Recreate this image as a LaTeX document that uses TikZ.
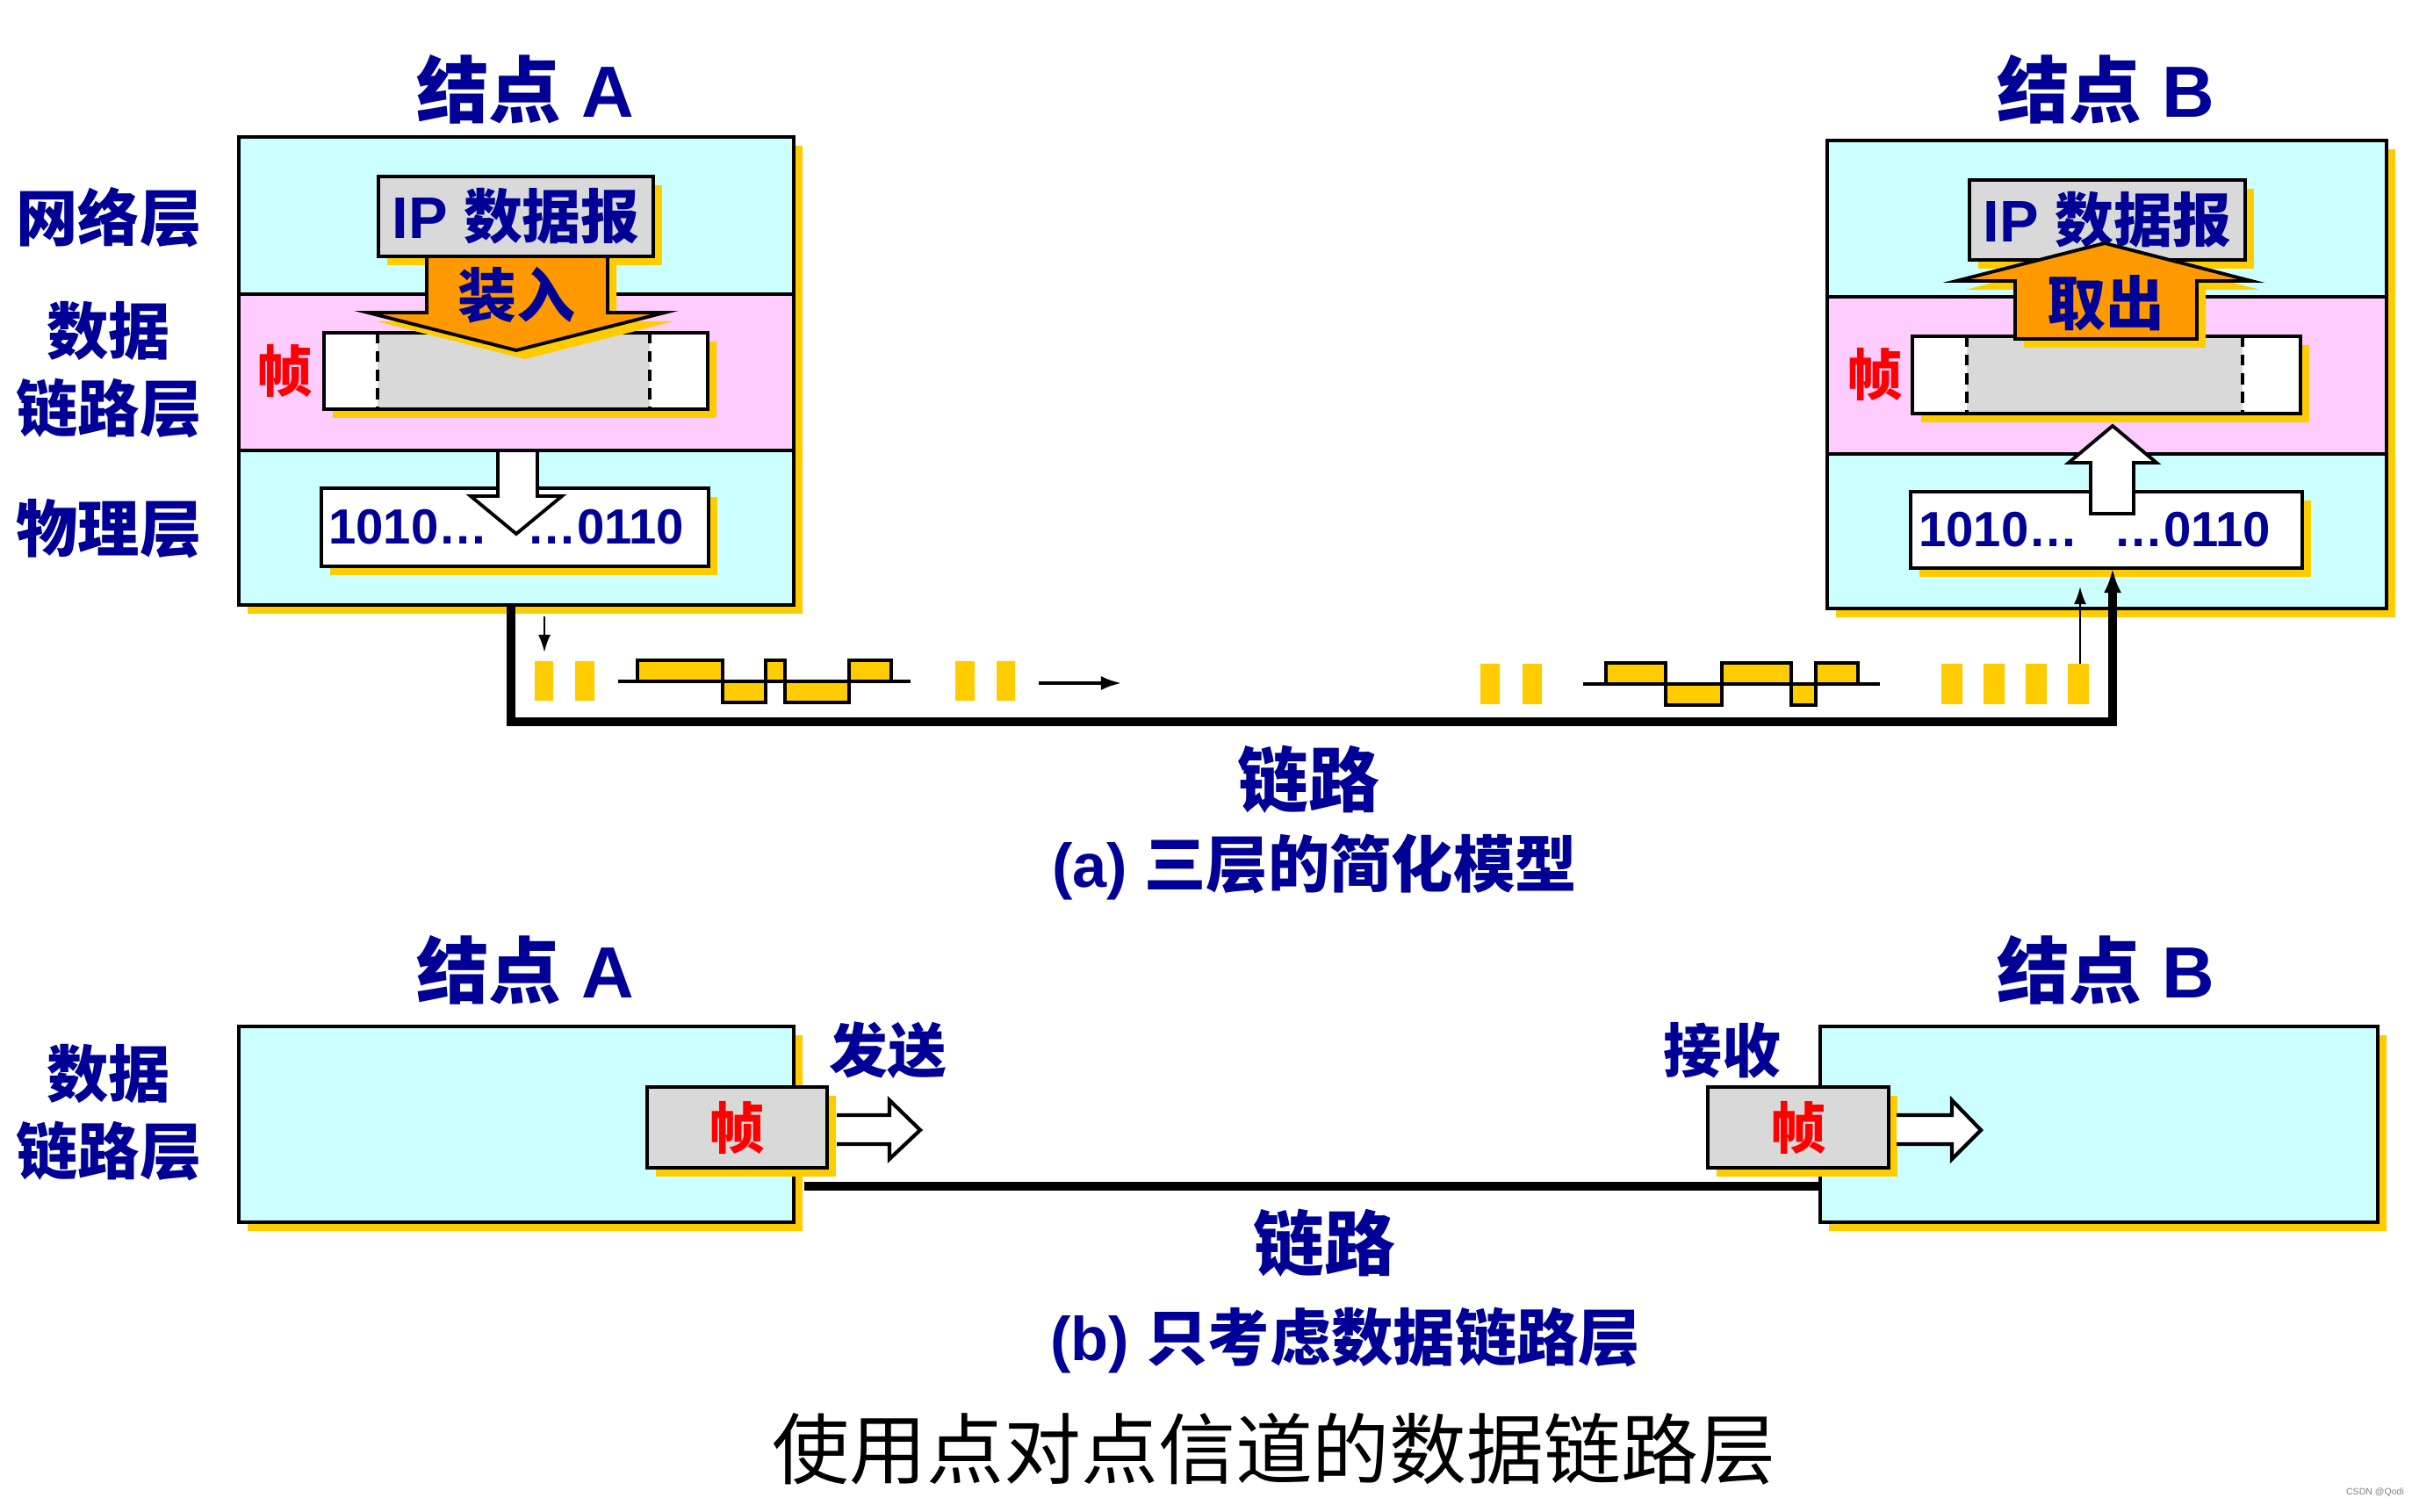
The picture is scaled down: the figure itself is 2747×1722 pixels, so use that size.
\documentclass[tikz,border=0pt]{standalone}
\usepackage{fontspec}
\setmainfont{Liberation Sans}
\newfontfamily\cjk{Noto Sans CJK SC}
\usetikzlibrary{arrows.meta,shadows}
\definecolor{navy}{RGB}{0,0,150}
\definecolor{cyanf}{RGB}{204,255,255}
\definecolor{pinkf}{RGB}{255,204,255}
\definecolor{grayf}{RGB}{217,217,217}
\definecolor{shy}{RGB}{255,204,0}
\definecolor{orangef}{RGB}{255,153,0}
\newcommand{\fsz}[1]{\fontsize{#1}{#1}\selectfont}
\begin{document}
\begin{tikzpicture}[x=0.01cm,y=-0.01cm,line join=miter,
  sh/.style={drop shadow={shadow xshift=0.1cm,shadow yshift=-0.1cm,fill=shy,opacity=1}},
  box/.style={draw,line width=1.1pt,inner sep=0pt,outer sep=0pt,sh},
  lab/.style={text=navy,inner sep=0pt,font=\bfseries\cjk\fsz{20}},
  ttl/.style={text=navy,inner sep=0pt,font=\bfseries\fsz{23.5}},
  midl/.style={text=navy,inner sep=0pt,font=\bfseries\fsz{19}},
  capt/.style={text=navy,inner sep=0pt,font=\bfseries\fsz{20}},
  zhen/.style={text=red,inner sep=0pt,font=\bfseries\cjk\fsz{18}},
  bitsty/.style={text=navy,inner sep=0pt,font=\bfseries\fsz{16}},
  link/.style={line width=2.8pt},
  thinarr/.style={line width=0.7pt,-{Latex[length=0.2cm,width=0.14cm]}},
  hollow/.style={line width=1.2pt,fill=white},
  band/.style={draw,line width=1.1pt,fill=pinkf},
  shp/.style={draw,line width=1.1pt},
  wave/.style={line width=1.1pt}
]
\useasboundingbox (0,0) rectangle (2747,1722);

% ---------- (a) titles and layer labels ----------
\node[ttl] (tA) at (598,102) {{\cjk 结点} A};
\node[ttl] (tB) at (2398,102) {{\cjk 结点} B};
\node[lab] (lNet) at (124,248) {网络层};
\node[lab,align=center,font=\bfseries\cjk\fontsize{20}{25}\selectfont] (lDL) at (124,421) {数据\\链路层};
\node[lab] (lPhy) at (124,602) {物理层};

% ---------- node A ----------
\node[box,fill=cyanf,minimum width=6.32cm,minimum height=5.33cm] (boxA) at (588,422.5) {};
\draw[band] (272,335) rectangle (904,513);
\node[box,fill=grayf,minimum width=3.13cm,minimum height=0.91cm] (ipA) at (587.5,246.5) {};
\node[midl] (ipAt) at (ipA) {IP {\cjk 数据报}};
\node[box,fill=white,minimum width=4.37cm,minimum height=0.87cm] (frA) at (587.5,422.5) {};
\fill[grayf] (430,379) rectangle (740,466);
\draw[line width=1pt,dash pattern=on 3.5pt off 2.5pt] (430,379) -- (430,466) (740,379) -- (740,466);
\draw[line width=1.1pt] (frA.south west) rectangle (frA.north east);
\node[zhen] (zA) at (324,422) {帧};
\node[box,fill=white,minimum width=4.41cm,minimum height=0.89cm] (bitsA) at (586.5,600.5) {};
\node[bitsty] (bA1) at (465,600) {1010\ldots};
\node[bitsty] (bA2) at (690,600) {\ldots0110};
% load arrow
\draw[shp,fill=orangef,sh] (486,292) -- (692,292) -- (692,356) -- (757,356) -- (588,399) -- (419,356) -- (486,356) -- cycle;
\node[midl,font=\bfseries\cjk\fsz{19}] (inA) at (588,336) {装入};
% white down arrow
\draw[shp,fill=white] (567,513) -- (612,513) -- (612,565) -- (640,565) -- (588,608) -- (536,565) -- (567,565) -- cycle;

% ---------- node B ----------
\node[box,fill=cyanf,minimum width=6.37cm,minimum height=5.33cm] (boxB) at (2399.5,426.5) {};
\draw[band] (2081,338) rectangle (2718,517);
\node[box,fill=grayf,minimum width=3.14cm,minimum height=0.91cm] (ipB) at (2400,250.5) {};
\node[midl] (ipBt) at (ipB) {IP {\cjk 数据报}};
\node[box,fill=white,minimum width=4.42cm,minimum height=0.88cm] (frB) at (2399,427) {};
\fill[grayf] (2240,383) rectangle (2554,471);
\draw[line width=1pt,dash pattern=on 3.5pt off 2.5pt] (2240,383) -- (2240,471) (2554,383) -- (2554,471);
\draw[line width=1.1pt] (frB.south west) rectangle (frB.north east);
\node[zhen] (zB) at (2135,426) {帧};
\node[box,fill=white,minimum width=4.46cm,minimum height=0.87cm] (bitsB) at (2399,603.5) {};
\node[bitsty] (bB1) at (2276,603) {1010\ldots};
\node[bitsty] (bB2) at (2497,603) {\ldots0110};
% extract arrow
\draw[shp,fill=orangef,sh] (2295,386) -- (2295,320) -- (2228,320) -- (2397,277) -- (2564,320) -- (2502,320) -- (2502,386) -- cycle;
\node[midl,font=\bfseries\cjk\fsz{19}] (outB) at (2398,345) {取出};
% white up arrow
\draw[shp,fill=white] (2381,585) -- (2381,527) -- (2356,527) -- (2406,485) -- (2456,527) -- (2430,527) -- (2430,585) -- cycle;

% ---------- link (a) ----------
\coordinate (lA) at ([xshift=-0.06cm]boxA.south);
\coordinate (lmid) at (1500,822);
\coordinate (lB) at ([xshift=0.07cm]bitsB.south);
\draw[link,-{Latex[length=0.28cm,width=0.2cm]}] (lA) |- (lmid) -| (lB);
\coordinate (sa1) at (620,702); \coordinate (sa2) at (620,743);
\draw[thinarr] (sa1) -- (sa2);
\coordinate (ra1) at (2369,758); \coordinate (ra2) at (2369,668);
\draw[thinarr] (ra1) -- (ra2);
\coordinate (ma1) at (1183,778); \coordinate (ma2) at (1278,778);
\draw[line width=1.3pt,-{Latex[length=0.24cm,width=0.16cm]}] (ma1) -- (ma2);

% bars
\fill[shy] (609,753) rectangle (630,798) (655,753) rectangle (677,798);
\fill[shy] (1088,753) rectangle (1110,798) (1135,753) rectangle (1156,798);
\fill[shy] (1686,756) rectangle (1708,802) (1734,756) rectangle (1756,802);
\fill[shy] (2211,756) rectangle (2235,802) (2259,756) rectangle (2283,802)
           (2307,756) rectangle (2331,802) (2355,756) rectangle (2379,802);

% waveform left
\fill[shy] (726,776) rectangle (823,752) (823,776) rectangle (872,800) (872,776) rectangle (894,752)
           (894,776) rectangle (967,800) (967,776) rectangle (1015,752);
\draw[wave] (704,776) -- (1037,776);
\draw[wave] (704,776) -- (726,776) -- (726,752) -- (823,752) -- (823,800) -- (872,800) -- (872,752) -- (894,752)
  -- (894,800) -- (967,800) -- (967,752) -- (1015,752) -- (1015,776) -- (1037,776);
% waveform right
\fill[shy] (1829,779) rectangle (1897,755) (1897,779) rectangle (1961,803) (1961,779) rectangle (2040,755)
           (2040,779) rectangle (2068,803) (2068,779) rectangle (2116,755);
\draw[wave] (1803,779) -- (2141,779);
\draw[wave] (1803,779) -- (1829,779) -- (1829,755) -- (1897,755) -- (1897,803) -- (1961,803) -- (1961,755) -- (2040,755)
  -- (2040,803) -- (2068,803) -- (2068,755) -- (2116,755) -- (2116,779) -- (2141,779);

\node[lab,font=\bfseries\cjk\fsz{23}] (linkA) at (1490,888) {链路};
\node[capt] (capA) at (1497,987) {(a) {\cjk 三层的简化模型}};

% ---------- (b) ----------
\node[ttl] (tA2) at (598,1105) {{\cjk 结点} A};
\node[ttl] (tB2) at (2398,1105) {{\cjk 结点} B};
\node[lab,align=center,font=\bfseries\cjk\fontsize{20}{25}\selectfont] (lDL2) at (124,1267) {数据\\链路层};

\node[box,fill=cyanf,minimum width=6.32cm,minimum height=2.23cm] (boxA2) at (588,1280.5) {};
\node[box,fill=cyanf,minimum width=6.35cm,minimum height=2.23cm] (boxB2) at (2390.5,1280.5) {};
\draw[link] ([xshift=0.12cm,yshift=-0.705cm]boxA2.east) -- ([yshift=-0.705cm]boxB2.west);
\node[box,fill=grayf,minimum width=2.05cm,minimum height=0.92cm] (frA2) at (839.5,1284) {};
\node[zhen] (zA2) at (frA2) {帧};
\node[box,fill=grayf,minimum width=2.06cm,minimum height=0.92cm] (frB2) at (2048,1284) {};
\node[zhen] (zB2) at (frB2) {帧};
\draw[hollow] (953,1270) -- (1013,1270) -- (1013,1253) -- (1048,1287) -- (1013,1320) -- (1013,1303) -- (953,1303);
\draw[hollow] (2160,1270) -- (2223,1270) -- (2223,1253) -- (2256,1287) -- (2223,1320) -- (2223,1303) -- (2160,1303);
\node[lab,font=\bfseries\cjk\fsz{19}] (send) at (1011,1196) {发送};
\node[lab,font=\bfseries\cjk\fsz{19}] (recv) at (1961,1196) {接收};

\node[lab,font=\bfseries\cjk\fsz{23}] (linkB) at (1508,1416) {链路};
\node[capt] (capB) at (1532,1527) {(b) {\cjk 只考虑数据链路层}};

\node[inner sep=0pt,font=\cjk\fsz{25}] (title) at (1451,1650) {使用点对点信道的数据链路层};
\node[inner sep=0pt,text=gray,font=\fsz{3}] (wm) at (2705,1700) {CSDN @Qodi};
\end{tikzpicture}
\end{document}
